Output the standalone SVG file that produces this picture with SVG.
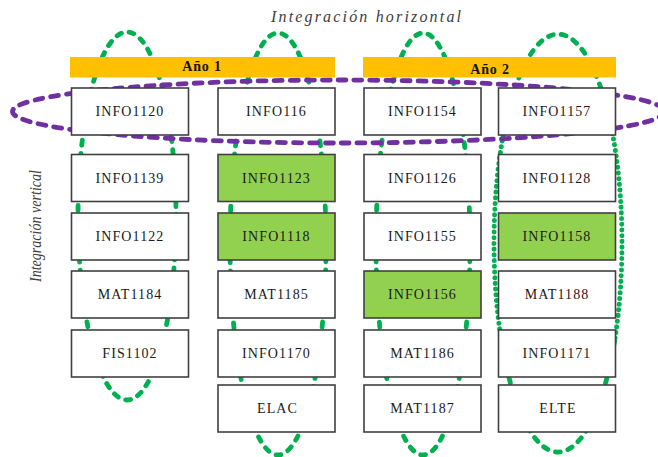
<svg xmlns="http://www.w3.org/2000/svg" width="658" height="457" viewBox="0 0 658 457">
<style>
.loop{fill:none;stroke:#00B050;stroke-width:4.8;stroke-linecap:round;stroke-dasharray:5 8}
.dots{fill:none;stroke:#00B050;stroke-width:5;stroke-linecap:round;stroke-dasharray:0.1 5.6}
.hz{fill:none;stroke:#7030A0;stroke-width:4.8;stroke-linecap:round;stroke-dasharray:8 8}
.bar{fill:#FFC000}
.box{fill:#FFFFFF;stroke:#404040;stroke-width:1.6}
.box.g{fill:#92D050}
.lbl{font-family:"Liberation Serif","Times New Roman",serif;font-size:14px;letter-spacing:1.1px;fill:#1a1a1a;text-anchor:middle}
.yr{font-family:"Liberation Serif","Times New Roman",serif;font-size:14px;font-weight:bold;letter-spacing:0.8px;fill:#111;text-anchor:middle}
.ttl{font-family:"Liberation Serif","Times New Roman",serif;font-style:italic;fill:#404040;text-anchor:middle}
</style>
<rect width="658" height="457" fill="#FFFFFF"/>
<g id="connectors">
<ellipse class="loop" cx="127" cy="216" rx="49" ry="184"/>
<ellipse class="loop" cx="278" cy="244" rx="48" ry="211"/>
<ellipse class="loop" cx="423" cy="244" rx="47" ry="211"/>
<path class="loop" d="M 504.6 128 A 64 209 0 0 1 611.4 128"/>
<path class="loop" d="M 614.7 340 A 64 209 0 0 1 501.3 340"/>
<path class="dots" d="M 611.4 128 A 64 209 0 0 1 614.7 340"/>
<path class="dots" d="M 501.3 340 A 64 209 0 0 1 504.6 128"/>
<ellipse class="hz" cx="338.5" cy="111.5" rx="326" ry="31.5"/>
</g>
<text class="ttl" x="366" y="22" font-size="16" textLength="190" lengthAdjust="spacing">Integración horizontal</text>
<text class="ttl" x="0" y="0" font-size="16.5" textLength="112" lengthAdjust="spacingAndGlyphs" transform="translate(41 226) rotate(-90)">Integración vertical</text>
<g id="year1"><rect class="bar" x="70" y="57" width="265" height="20.5"/><text class="yr" x="202" y="71">Año 1</text></g>
<g id="year2"><rect class="bar" x="363" y="57" width="253" height="20.5"/><text class="yr" x="490" y="74">Año 2</text></g>
<g id="INFO1120"><rect class="box" x="71.5" y="88" width="117" height="47"/><text class="lbl" x="130" y="116">INFO1120</text></g>
<g id="INFO1139"><rect class="box" x="71.5" y="154.5" width="117" height="47"/><text class="lbl" x="130" y="182.5">INFO1139</text></g>
<g id="INFO1122"><rect class="box" x="71.5" y="213" width="117" height="47"/><text class="lbl" x="130" y="241">INFO1122</text></g>
<g id="MAT1184"><rect class="box" x="71.5" y="271" width="117" height="47"/><text class="lbl" x="130" y="299">MAT1184</text></g>
<g id="FIS1102"><rect class="box" x="71.5" y="330" width="117" height="47"/><text class="lbl" x="130" y="358">FIS1102</text></g>
<g id="INFO116"><rect class="box" x="218" y="88" width="117" height="47"/><text class="lbl" x="276.5" y="116">INFO116</text></g>
<g id="INFO1123"><rect class="box g" x="218" y="154.5" width="117" height="47"/><text class="lbl" x="276.5" y="182.5">INFO1123</text></g>
<g id="INFO1118"><rect class="box g" x="218" y="213" width="117" height="47"/><text class="lbl" x="276.5" y="241">INFO1118</text></g>
<g id="MAT1185"><rect class="box" x="218" y="271" width="117" height="47"/><text class="lbl" x="276.5" y="299">MAT1185</text></g>
<g id="INFO1170"><rect class="box" x="218" y="330" width="117" height="47"/><text class="lbl" x="276.5" y="358">INFO1170</text></g>
<g id="ELAC"><rect class="box" x="218" y="385" width="117" height="47"/><text class="lbl" x="277.5" y="413">ELAC</text></g>
<g id="INFO1154"><rect class="box" x="364" y="88" width="117" height="47"/><text class="lbl" x="422.5" y="116">INFO1154</text></g>
<g id="INFO1126"><rect class="box" x="364" y="154.5" width="117" height="47"/><text class="lbl" x="422.5" y="182.5">INFO1126</text></g>
<g id="INFO1155"><rect class="box" x="364" y="213" width="117" height="47"/><text class="lbl" x="422.5" y="241">INFO1155</text></g>
<g id="INFO1156"><rect class="box g" x="364" y="271" width="117" height="47"/><text class="lbl" x="422.5" y="299">INFO1156</text></g>
<g id="MAT1186"><rect class="box" x="364" y="330" width="117" height="47"/><text class="lbl" x="422.5" y="358">MAT1186</text></g>
<g id="MAT1187"><rect class="box" x="364" y="385" width="117" height="47"/><text class="lbl" x="422.5" y="413">MAT1187</text></g>
<g id="INFO1157"><rect class="box" x="498.5" y="88" width="117" height="47"/><text class="lbl" x="557" y="116">INFO1157</text></g>
<g id="INFO1128"><rect class="box" x="498.5" y="154.5" width="117" height="47"/><text class="lbl" x="557" y="182.5">INFO1128</text></g>
<g id="INFO1158"><rect class="box g" x="498.5" y="213" width="117" height="47"/><text class="lbl" x="557" y="241">INFO1158</text></g>
<g id="MAT1188"><rect class="box" x="498.5" y="271" width="117" height="47"/><text class="lbl" x="557" y="299">MAT1188</text></g>
<g id="INFO1171"><rect class="box" x="498.5" y="330" width="117" height="47"/><text class="lbl" x="557" y="358">INFO1171</text></g>
<g id="ELTE"><rect class="box" x="498.5" y="385" width="117" height="47"/><text class="lbl" x="558" y="413">ELTE</text></g>
</svg>
